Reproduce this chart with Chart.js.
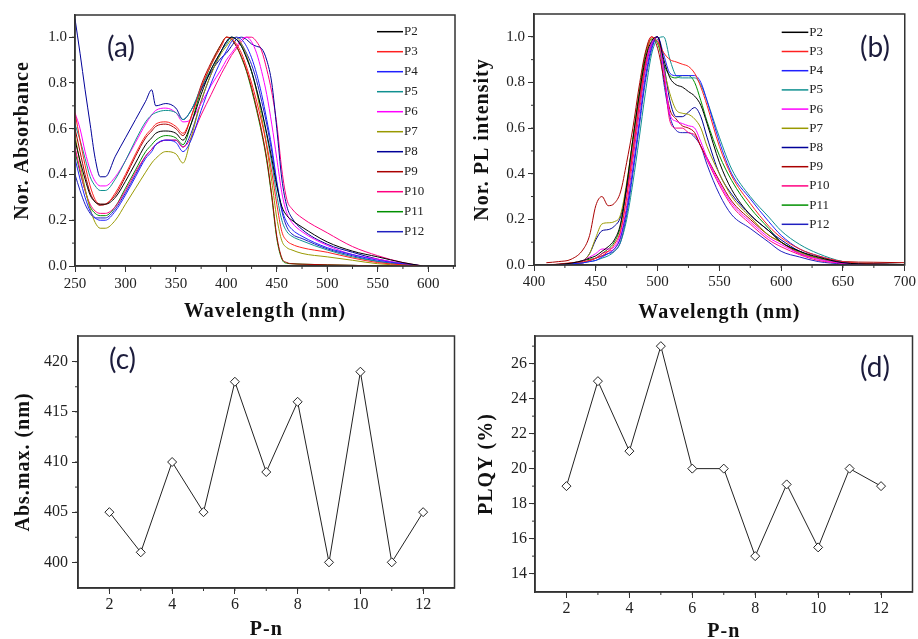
<!DOCTYPE html>
<html>
<head>
<meta charset="utf-8">
<script src="https://cdn.jsdelivr.net/npm/chart.js@4.4.0/dist/chart.umd.min.js"></script>
<style>
  body { margin: 0; background: #fff; width: 918px; height: 639px; position: relative; overflow: hidden; }
  canvas { position: absolute; }
</style>
</head>
<body>
<canvas id="chartA" width="460" height="330" style="left:0;top:0"></canvas>
<canvas id="chartB" width="458" height="330" style="left:460px;top:0"></canvas>
<canvas id="chartC" width="460" height="325" style="left:0;top:320px"></canvas>
<canvas id="chartD" width="458" height="325" style="left:460px;top:320px"></canvas>
<script>
// ── Data ────────────────────────────────────────────────────────────────
const seriesNames  = ["P2","P3","P4","P5","P6","P7","P8","P9","P10","P11","P12"];
const seriesColors = ["#000000","#ff2020","#2020ff","#109090","#ff00ff","#999900",
                      "#000099","#aa0000","#ff0080","#009000","#2020c0"];

// (a) normalised absorbance
const absWl  = [250,255,260,265,270,275,280,290,300,310,320,326,330,340,350,357,365,375,385,395,
                400,405,410,415,420,425,430,435,440,445,450,455,460,465,475,500,525,550,575,595];
const absP2  = [.55,.46,.38,.31,.28,.27,.27,.30,.37,.45,.53,.56,.58,.59,.58,.55,.62,.75,.86,.94,
                .98,1.0,.99,.96,.91,.85,.77,.68,.58,.47,.35,.26,.22,.20,.17,.105,.065,.04,.015,0];
const absP3  = [.67,.55,.44,.35,.29,.27,.27,.32,.40,.49,.57,.60,.62,.63,.61,.58,.65,.78,.88,.96,
                1.0,.995,.97,.93,.87,.80,.72,.63,.53,.41,.27,.15,.11,.095,.08,.06,.035,.015,.005,0];
const absP4  = [.47,.38,.30,.24,.21,.20,.20,.24,.31,.39,.47,.50,.53,.55,.54,.50,.55,.68,.80,.90,
                .94,.98,1.0,.99,.96,.91,.84,.75,.64,.52,.37,.25,.19,.16,.13,.08,.05,.025,.01,0];
const absP5  = [.62,.55,.47,.39,.35,.33,.33,.38,.46,.55,.63,.66,.67,.68,.67,.64,.68,.78,.86,.94,
                .97,1.0,.99,.96,.91,.85,.77,.68,.57,.45,.31,.20,.15,.13,.11,.07,.04,.02,.005,0];
const absP6  = [.67,.60,.50,.42,.37,.35,.35,.39,.46,.54,.62,.66,.68,.69,.67,.63,.64,.71,.79,.86,
                .90,.93,.96,.99,1.0,.98,.93,.85,.75,.62,.47,.32,.23,.19,.15,.09,.05,.03,.01,0];
const absP7  = [.57,.45,.34,.25,.19,.165,.165,.20,.27,.34,.41,.45,.47,.50,.49,.45,.56,.72,.84,.93,
                .96,.99,1.0,.97,.92,.85,.76,.65,.52,.37,.21,.11,.08,.07,.055,.04,.025,.01,.003,0];
const absP8  = [1.08,.93,.77,.62,.47,.39,.39,.48,.56,.64,.72,.77,.70,.71,.69,.64,.68,.77,.85,.91,
                .93,.96,.99,1.0,.99,.97,.96,.95,.90,.80,.60,.38,.26,.21,.16,.095,.06,.03,.01,0];
const absP9  = [.60,.50,.40,.32,.28,.265,.27,.31,.39,.48,.56,.59,.61,.62,.60,.57,.65,.79,.89,.97,
                1.0,.99,.96,.915,.855,.78,.69,.59,.47,.31,.13,.035,.015,.01,.008,.005,.003,0,0,0];
const absP10 = [.52,.42,.33,.27,.24,.23,.23,.26,.33,.41,.48,.51,.53,.55,.55,.52,.56,.66,.75,.84,
                .88,.92,.95,.98,1.0,1.0,.98,.94,.86,.76,.62,.42,.29,.25,.21,.145,.085,.045,.015,0];
const absP11 = [.50,.41,.33,.26,.23,.22,.22,.26,.34,.42,.50,.53,.55,.57,.56,.53,.62,.77,.88,.97,
                1.0,.99,.96,.91,.85,.77,.68,.58,.46,.30,.12,.03,.012,.01,.008,.005,.003,0,0,0];
const absP12 = [.40,.33,.27,.23,.21,.21,.21,.25,.32,.40,.48,.51,.53,.55,.55,.52,.58,.72,.84,.94,
                .98,1.0,.99,.97,.93,.88,.81,.72,.62,.50,.36,.24,.17,.14,.12,.075,.045,.02,.008,0];

// (b) normalised PL intensity
const plWl  = [410,420,430,440,445,450,455,460,465,470,475,480,485,490,495,500,505,510,515,520,
               525,530,535,540,550,560,575,590,600,615,630,650,675,700];
const plP2  = [0,.003,.008,.02,.03,.04,.06,.08,.11,.18,.35,.55,.74,.90,.98,1.0,.90,.82,.79,.78,
               .76,.74,.70,.62,.45,.33,.22,.15,.10,.06,.035,.01,.004,.002];
const plP3  = [0,.004,.01,.015,.02,.03,.04,.06,.09,.15,.30,.50,.70,.88,1.0,.98,.93,.90,.89,.88,
               .87,.84,.78,.70,.52,.39,.27,.17,.12,.07,.04,.015,.005,.002];
const plP4  = [0,.002,.005,.01,.015,.02,.035,.05,.07,.12,.24,.42,.62,.82,.95,1.0,.92,.84,.83,.83,
               .83,.83,.80,.72,.54,.40,.29,.19,.13,.07,.04,.012,.004,.002];
const plP5  = [0,.002,.005,.01,.015,.02,.03,.04,.06,.10,.20,.36,.55,.75,.92,.99,1.0,.90,.83,.82,
               .82,.82,.79,.72,.56,.42,.30,.21,.15,.09,.05,.015,.005,.002];
const plP6  = [0,.003,.008,.02,.035,.05,.07,.07,.08,.14,.30,.50,.70,.87,.97,1.0,.85,.66,.63,.62,
               .61,.60,.54,.47,.36,.27,.19,.12,.09,.05,.025,.008,.003,.002];
const plP7  = [0,.002,.005,.02,.05,.12,.18,.185,.19,.22,.36,.55,.74,.90,.99,.98,.86,.75,.68,.665,
               .66,.64,.60,.52,.40,.30,.21,.13,.10,.055,.03,.01,.004,.002];
const plP8  = [0,.002,.005,.02,.05,.11,.15,.155,.17,.21,.33,.50,.70,.87,.97,1.0,.88,.72,.65,.65,
               .67,.69,.65,.56,.40,.31,.22,.15,.11,.06,.03,.01,.004,.002];
const plP9  = [.01,.015,.025,.07,.13,.26,.30,.26,.27,.32,.45,.60,.78,.93,1.0,.95,.82,.68,.64,.61,
               .60,.58,.52,.47,.37,.28,.20,.13,.10,.05,.03,.015,.012,.01];
const plP10 = [0,.002,.005,.01,.02,.03,.05,.06,.07,.12,.26,.46,.66,.85,.96,1.0,.85,.63,.60,.60,
               .58,.57,.52,.46,.35,.26,.18,.11,.08,.045,.02,.008,.003,.002];
const plP11 = [0,.003,.008,.02,.025,.03,.05,.07,.10,.17,.34,.55,.75,.92,.99,.97,.88,.83,.82,.83,
               .83,.80,.72,.63,.48,.37,.25,.16,.10,.06,.03,.01,.004,.002];
const plP12 = [0,.002,.005,.01,.02,.03,.04,.05,.06,.10,.22,.40,.60,.80,.94,1.0,.80,.65,.59,.58,
               .58,.56,.52,.44,.31,.22,.16,.10,.06,.035,.015,.005,.002,.001];

// (c) / (d)
const pn     = [2,3,4,5,6,7,8,9,10,11,12];
const absMax = [405,401,410,405,418,409,416,400,419,400,405];
const plqy   = [19,25,21,27,20,20,15,19.1,15.5,20,19];

// tick labels
const absXTicks   = [250,300,350,400,450,500,550,600];
const plXTicks    = [400,450,500,550,600,650,700];
const normYTicks  = [0,0.2,0.4,0.6,0.8,1.0];
const pnTicks     = [2,4,6,8,10,12];
const absMaxTicks = [400,405,410,415,420];
const plqyTicks   = [14,16,18,20,22,24,26];

// ── Styling helpers ─────────────────────────────────────────────────────
const SERIF     = "'Liberation Serif', 'Times New Roman', serif";
const titleFont = { family: SERIF, size: 20, weight: "bold", lineHeight: 1 };

function xAxis(o) {
    return {
        type: "linear", position: "bottom", min: o.min, max: o.max,
        afterBuildTicks: s => { s.ticks = o.ticks.map(v => ({ value: v })); },
        afterFit: s => { s.height = o.size; },
        ticks: { z: 1, padding: o.labelPad, color: "#222", font: { family: SERIF, size: o.fs || 15 },
                 maxRotation: 0, autoSkip: false, callback: o.fmt || (v => String(v)) },
        grid: { drawOnChartArea: false, drawTicks: true, tickLength: 6, tickColor: "#333" },
        border: { display: true, color: "#333", width: 1.5 },
        title: { display: true, text: o.title, color: "#111", font: titleFont,
                 padding: { top: 0, bottom: o.titlePad } },
    };
}

function yAxis(o) {
    return {
        type: "linear", position: "left", min: o.min, max: o.max,
        afterBuildTicks: s => { s.ticks = o.ticks.map(v => ({ value: v })); },
        afterFit: s => { s.width = o.size; },
        ticks: { z: 1, padding: o.labelPad, color: "#222", font: { family: SERIF, size: o.fs || 15 },
                 autoSkip: false, callback: o.fmt || (v => String(v)) },
        grid: { drawOnChartArea: false, drawTicks: true, tickLength: 6, tickColor: "#333" },
        border: { display: true, color: "#333", width: 1.5 },
        title: { display: true, text: o.title, color: "#111", font: titleFont,
                 padding: { top: o.titlePad, bottom: 0 } },
    };
}

// axis titles are letter-spaced in the original, tick labels are not
const spacingPlugin = {
    id: "spacing",
    beforeDraw(c)         { c.ctx.letterSpacing = "1px"; },
    beforeDatasetsDraw(c) { c.ctx.letterSpacing = "0px"; },
};

// frame box, minor ticks, in-plot legend and panel tag
const framePlugin = {
    id: "frame",
    afterDraw(chart, args, opts) {
        const { ctx, chartArea: a } = chart;
        ctx.save();
        ctx.letterSpacing = "0px";
        ctx.strokeStyle = "#333";
        ctx.lineWidth = 1.5;
        ctx.strokeRect(a.left, a.top, a.right - a.left, a.bottom - a.top);

        ctx.lineWidth = 1;
        const minor = (s, step, horiz) => {
            const k0 = Math.ceil(s.min / step - 1e-9), k1 = Math.floor(s.max / step + 1e-9);
            for (let k = k0; k <= k1; k++) {
                const p = s.getPixelForValue(k * step);
                ctx.beginPath();
                if (horiz) {
                    if (p < a.left + 1 || p > a.right - 1) continue;
                    ctx.moveTo(p, a.bottom); ctx.lineTo(p, a.bottom + 3);
                } else {
                    if (p < a.top + 1 || p > a.bottom - 1) continue;
                    ctx.moveTo(a.left, p); ctx.lineTo(a.left - 3, p);
                }
                ctx.stroke();
            }
        };
        minor(chart.scales.x, opts.xMinor, true);
        minor(chart.scales.y, opts.yMinor, false);

        if (opts.legend) {
            const L = opts.legend;
            ctx.font = "13px " + SERIF;
            ctx.textBaseline = "middle";
            ctx.textAlign = "left";
            chart.data.datasets.forEach((ds, i) => {
                const y = L.y + i * L.dy;
                ctx.strokeStyle = ds.borderColor;
                ctx.lineWidth = 1.5;
                ctx.beginPath(); ctx.moveTo(L.x, y); ctx.lineTo(L.x + L.len, y); ctx.stroke();
                ctx.fillStyle = "#222";
                ctx.fillText(ds.label, L.x + L.len + 1, y);
            });
        }

        if (opts.tag) {
            ctx.font = "28px Lato, 'Open Sans', sans-serif";
            ctx.fillStyle = "#1c1c3c";
            ctx.textAlign = "center";
            ctx.textBaseline = "middle";
            ctx.fillText(opts.tag.text, opts.tag.x, opts.tag.y);
        }
        ctx.restore();
    }
};

function spectra(xs, ys) {
    return ys.map((arr, i) => ({
        label: seriesNames[i],
        data: arr.map((y, j) => ({ x: xs[j], y })),
        borderColor: seriesColors[i],
        borderWidth: 1,
        pointRadius: 0,
        cubicInterpolationMode: "monotone",
        fill: false,
    }));
}

function scatterLine(ys) {
    return [{
        data: pn.map((x, i) => ({ x, y: ys[i] })),
        borderColor: "#222", borderWidth: 1,
        pointStyle: "rectRot", pointRadius: 4.5,
        pointBackgroundColor: "#fff", pointBorderColor: "#222", pointBorderWidth: 1,
        tension: 0, fill: false,
    }];
}

const baseOpts = { responsive: false, animation: false, events: [] };
const noLegend = { legend: { display: false }, tooltip: { enabled: false } };

// ── (a) absorbance ────────────────────────────────────────────────────
new Chart(document.getElementById("chartA"), {
    type: "line",
    data: { datasets: spectra(absWl, [absP2,absP3,absP4,absP5,absP6,absP7,absP8,absP9,absP10,absP11,absP12]) },
    options: {
        ...baseOpts,
        layout: { padding: { left: 0, right: 5, top: 15, bottom: 0 } },
        scales: {
            x: xAxis({ min: 250, max: 626.6, ticks: absXTicks, size: 64, labelPad: 3,
                       title: "Wavelength (nm)", titlePad: 8 }),
            y: yAxis({ min: 0, max: 1.097, ticks: normYTicks, size: 75, labelPad: 2,
                       fmt: v => v.toFixed(1), title: "Nor. Absorbance", titlePad: 13 }),
        },
        plugins: { ...noLegend,
            frame: { xMinor: 25, yMinor: 0.1,
                     legend: { x: 377, y: 31.7, dy: 20, len: 26 },
                     tag: { text: "(a)", x: 121, y: 48 } } },
    },
    plugins: [spacingPlugin, framePlugin],
});

// ── (b) photoluminescence ─────────────────────────────────────────────
new Chart(document.getElementById("chartB"), {
    type: "line",
    data: { datasets: spectra(plWl, [plP2,plP3,plP4,plP5,plP6,plP7,plP8,plP9,plP10,plP11,plP12]) },
    options: {
        ...baseOpts,
        layout: { padding: { left: 0, right: 7, top: 14, bottom: 0 } },
        scales: {
            x: xAxis({ min: 400, max: 700, ticks: plXTicks, size: 65, labelPad: 2,
                       title: "Wavelength (nm)", titlePad: 7 }),
            y: yAxis({ min: 0, max: 1.1, ticks: normYTicks, size: 74, labelPad: 3,
                       fmt: v => v.toFixed(1), title: "Nor. PL intensity", titlePad: 13 }),
        },
        plugins: { ...noLegend,
            frame: { xMinor: 25, yMinor: 0.1,
                     legend: { x: 321.7, y: 32.3, dy: 19.2, len: 26.6 },
                     tag: { text: "(b)", x: 415, y: 48 } } },
    },
    plugins: [spacingPlugin, framePlugin],
});

// ── (c) absorption maximum ────────────────────────────────────────────
new Chart(document.getElementById("chartC"), {
    type: "line",
    data: { datasets: scatterLine(absMax) },
    options: {
        ...baseOpts,
        layout: { padding: { left: 0, right: 3, top: 16, bottom: 0 } },
        scales: {
            x: xAxis({ min: 1, max: 13, ticks: pnTicks, size: 57, labelPad: 1, fs: 16,
                       title: "P-n", titlePad: 5 }),
            y: yAxis({ min: 397.44, max: 422.56, ticks: absMaxTicks, size: 78, labelPad: 4, fs: 16,
                       title: "Abs.max. (nm)", titlePad: 13.5 }),
        },
        plugins: { ...noLegend,
            frame: { xMinor: 1, yMinor: 2.5, tag: { text: "(c)", x: 122.5, y: 40 } } },
    },
    plugins: [spacingPlugin, framePlugin],
});

// ── (d) PLQY ──────────────────────────────────────────────────────────
new Chart(document.getElementById("chartD"), {
    type: "line",
    data: { datasets: scatterLine(plqy) },
    options: {
        ...baseOpts,
        layout: { padding: { left: 0, right: 4, top: 16, bottom: 0 } },
        scales: {
            x: xAxis({ min: 1, max: 13, ticks: pnTicks, size: 53, labelPad: 1, fs: 16,
                       title: "P-n", titlePad: 3 }),
            y: yAxis({ min: 12.95, max: 27.58, ticks: plqyTicks, size: 75, labelPad: 2, fs: 16,
                       title: "PLQY (%)", titlePad: 16.5 }),
        },
        plugins: { ...noLegend,
            frame: { xMinor: 1, yMinor: 1, tag: { text: "(d)", x: 415, y: 48 } } },
    },
    plugins: [spacingPlugin, framePlugin],
});
</script>
</body>
</html>
